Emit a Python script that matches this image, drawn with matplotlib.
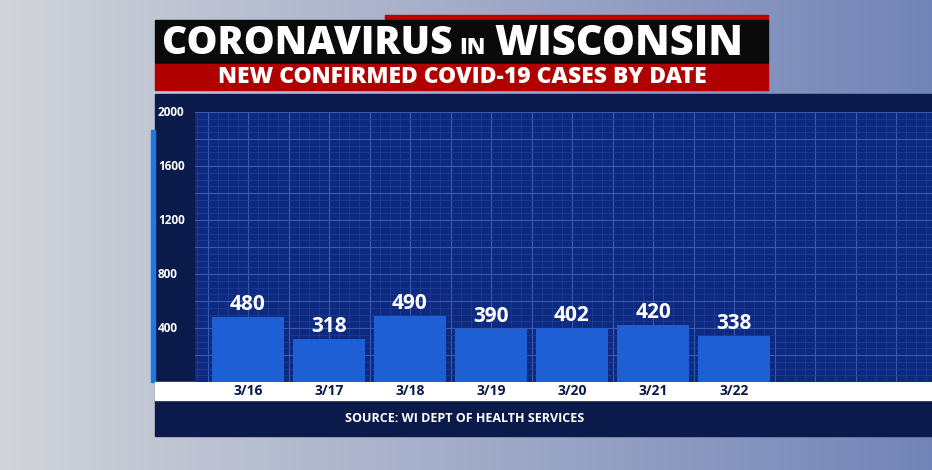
import matplotlib
matplotlib.use("Agg")
import matplotlib.pyplot as plt
import numpy as np
from matplotlib.patches import Rectangle
from matplotlib.ticker import MultipleLocator

dates = ["3/16", "3/17", "3/18", "3/19", "3/20", "3/21", "3/22"]
cases = [480, 318, 490, 390, 402, 420, 338]
yticks = [400, 800, 1200, 1600, 2000]

W, H = 932, 470
fig = plt.figure(figsize=(W/100, H/100), dpi=100)

bg = fig.add_axes([0, 0, 1, 1])
grad = np.linspace(0, 1, 256)
img = np.zeros((2, 256, 3))
c1 = np.array([0.82, 0.83, 0.85]); c2 = np.array([0.45, 0.52, 0.72])
for i, t in enumerate(grad):
    img[:, i] = c1 * (1 - t) + c2 * t
bg.imshow(img, aspect="auto", extent=[0, W, 0, H])
bg.set_xlim(0, W); bg.set_ylim(H, 0); bg.axis("off")

def rect(x0, y0, x1, y1, color, z=1):
    bg.add_patch(Rectangle((x0, y0), x1 - x0, y1 - y0, color=color, zorder=z))

rect(155, 94, 932, 436, "#0a1a4a")
rect(151, 130, 155, 382, "#1e78e6", 2)
rect(155, 382, 932, 400, "white", 2)
rect(385, 15, 768, 22, "#c00000", 2)
rect(155, 20, 768, 63, "#0a0a0a", 3)
rect(155, 64, 768, 90, "#b00000", 3)
bg.text(452, 44, "CORONAVIRUS", ha="right", va="center", color="white",
        fontsize=28, fontweight="heavy", family="Open Sans", zorder=4)
bg.text(472, 48, "IN", ha="center", va="center", color="white",
        fontsize=16, fontweight="heavy", family="Open Sans", zorder=4)
bg.text(494, 44, "WISCONSIN", ha="left", va="center", color="white",
        fontsize=30, fontweight="heavy", family="Open Sans", zorder=4)
bg.text(462, 77, "NEW CONFIRMED COVID-19 CASES BY DATE", ha="center", va="center",
        color="white", fontsize=16.5, fontweight="heavy", family="Open Sans", zorder=4)
bg.text(465, 418, "SOURCE: WI DEPT OF HEALTH SERVICES", ha="center", va="center",
        color="white", fontsize=9, fontweight="bold", family="Open Sans", zorder=4)

x0p, x1p, y0p, y1p = 195, 932, 382, 112
ax = fig.add_axes([x0p/W, 1 - y0p/H, (x1p - x0p)/W, (y0p - y1p)/H])
ax.set_facecolor("#0e2a80")
x = np.arange(len(dates))
ax.bar(x, cases, width=0.89, color="#1f5fd6", zorder=3)
for xi, v in zip(x, cases):
    ax.text(xi, v + 15, str(v), ha="center", va="bottom", color="white",
            fontsize=15, fontweight="bold", family="Open Sans", zorder=4)
ax.set_xlim((x0p - 248)/81, (x1p - 248)/81)
ax.set_ylim(0, 2000)
ax.xaxis.set_major_locator(MultipleLocator(0.5))
ax.xaxis.set_minor_locator(MultipleLocator(0.125))
ax.yaxis.set_major_locator(MultipleLocator(200))
ax.yaxis.set_minor_locator(MultipleLocator(50))
ax.grid(True, which="major", color="#3a5ab0", linewidth=0.8, zorder=0)
ax.grid(True, which="minor", color="#203f98", linewidth=0.5, zorder=0)
ax.tick_params(which="both", length=0, labelbottom=False, labelleft=False)
for s in ax.spines.values():
    s.set_visible(False)

for v in yticks:
    bg.text(158, 382 - v*0.135, str(v), ha="left", va="center", color="white",
            fontsize=8.5, fontweight="bold", family="Open Sans", zorder=4)
for i, d in enumerate(dates):
    bg.text(248 + 81*i, 391, d, ha="center", va="center", color="#0a1a4a",
            fontsize=10, fontweight="bold", family="Open Sans", zorder=4)

fig.savefig("out.png", dpi=100)
